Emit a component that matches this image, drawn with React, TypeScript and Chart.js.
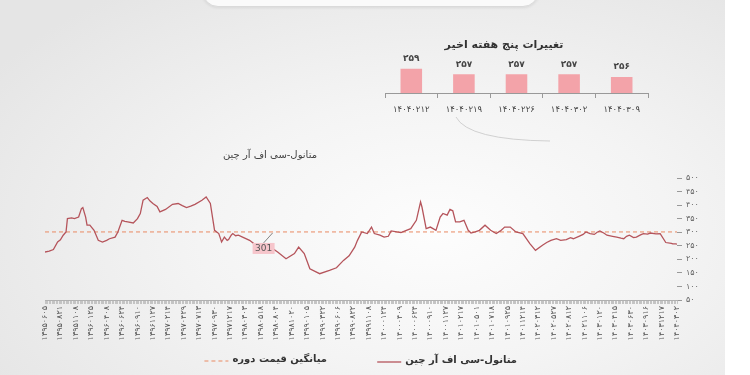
import React, { useEffect, useRef } from 'react';
import { Chart, registerables } from 'chart.js';

Chart.register(...registerables);

const FONT = '"DejaVu Sans", sans-serif';

// ---- main series (weekly index, price) ----
const dateLabels = [
  '۱۳۹۵۰۶۰۵', '۱۳۹۵۰۸۲۱', '۱۳۹۵۱۱۰۸', '۱۳۹۶۰۱۲۵', '۱۳۹۶۰۴۰۸', '۱۳۹۶۰۶۲۴', '۱۳۹۶۰۹۱۰',
  '۱۳۹۶۱۱۲۷', '۱۳۹۷۰۲۱۴', '۱۳۹۷۰۴۲۹', '۱۳۹۷۰۷۱۳', '۱۳۹۷۰۹۳۰', '۱۳۹۷۱۲۱۷', '۱۳۹۸۰۳۰۳',
  '۱۳۹۸۰۵۱۸', '۱۳۹۸۰۸۰۴', '۱۳۹۸۱۰۲۰', '۱۳۹۹۰۱۰۵', '۱۳۹۹۰۳۲۲', '۱۳۹۹۰۶۰۶', '۱۳۹۹۰۸۲۲',
  '۱۳۹۹۱۱۰۸', '۱۴۰۰۰۱۲۴', '۱۴۰۰۰۴۰۹', '۱۴۰۰۰۶۲۴', '۱۴۰۰۰۹۱۰', '۱۴۰۰۱۱۲۷', '۱۴۰۱۰۲۱۷',
  '۱۴۰۱۰۵۰۱', '۱۴۰۱۰۷۱۸', '۱۴۰۱۰۹۲۵', '۱۴۰۱۱۲۱۴', '۱۴۰۲۰۳۱۲', '۱۴۰۲۰۵۲۷', '۱۴۰۲۰۸۱۲',
  '۱۴۰۲۱۱۰۶', '۱۴۰۳۰۱۲۰', '۱۴۰۳۰۴۱۵', '۱۴۰۳۰۶۳۰', '۱۴۰۳۰۹۱۶', '۱۴۰۳۱۲۱۷', '۱۴۰۴۰۳۰۲',
];
const weeksPerLabel = 11;
const lastWeek = 451;

const priceWeeks = [
  0, 3, 6, 9, 11, 13, 15, 16, 19, 21, 24, 26, 27, 29, 30, 32, 35, 38, 41, 44, 46, 50, 52, 55, 57, 59,
  63, 66, 68, 70, 73, 75, 77, 80, 82, 86, 91, 95, 98, 101, 104, 107, 112, 115, 118, 121, 124, 125, 126,
  128, 130, 131, 133, 134, 136, 138, 141, 146, 149, 154, 161, 166, 172, 178, 181, 185, 189, 196, 203,
  208, 213, 217, 221, 223, 226, 230, 233, 235, 239, 242, 245, 247, 251, 254, 257, 261, 265, 268, 269,
  272, 275, 279, 282, 284, 287, 289, 291, 293, 296, 299, 302, 304, 307, 310, 314, 318, 322, 325, 328,
  332, 336, 341, 346, 350, 355, 358, 361, 365, 368, 372, 375, 377, 381, 384, 386, 389, 392, 394, 396,
  399, 401, 405, 408, 411, 413, 415, 417, 420, 422, 425, 427, 430, 432, 436, 439, 443, 447, 448, 449,
  450, 451,
];
const priceValues = [
  227, 230, 236, 264, 272, 289, 301, 350, 353, 350, 356, 387, 391, 356, 326, 326, 307, 270, 264, 270,
  276, 282, 301, 344, 340, 338, 334, 350, 369, 418, 428, 415, 406, 395, 375, 384, 403, 406, 398, 391,
  396, 403, 418, 430, 406, 307, 295, 280, 264, 282, 270, 273, 290, 295, 287, 289, 282, 270, 258, 252,
  245, 227, 202, 221, 245, 221, 165, 147, 159, 169, 196, 213, 245, 270, 301, 295, 319, 295, 289, 282,
  285, 305, 301, 299, 305, 313, 344, 412, 393, 313, 319, 307, 356, 369, 363, 384, 379, 338, 338, 344,
  307, 297, 301, 307, 326, 307, 295, 305, 319, 319, 301, 295, 258, 233, 252, 262, 270, 276, 270, 273,
  280, 276, 285, 292, 301, 295, 292, 300, 305, 296, 289, 285, 282, 278, 276, 285, 289, 280, 282, 290,
  295, 293, 297, 294, 295, 262, 259, 257, 257, 257, 256,
];
const averagePrice = 301;
const averageLabelWeek = 156;
const yMin = 50;
const yMax = 500;
const yStep = 50;

const seriesName = 'متانول-سی اف آر چین';
const averageName = 'میانگین قیمت دوره';
const chartTitle = 'متانول-سی اف آر چین';

// ---- inset: last five weeks ----
const recentTitle = 'تغییرات پنج هفته اخیر';
const recentLabels = ['۱۴۰۴۰۲۱۲', '۱۴۰۴۰۲۱۹', '۱۴۰۴۰۲۲۶', '۱۴۰۴۰۳۰۲', '۱۴۰۴۰۳۰۹'];
const recentValues = [259, 257, 257, 257, 256];
const recentMin = 250;
const recentMax = 266;

const toFa = (v: number | string) => String(v).replace(/\d/g, (d) => '۰۱۲۳۴۵۶۷۸۹'[+d]);

const mainOverlay = {
  id: 'mainOverlay',
  afterDraw(chart: any) {
    const { ctx, scales } = chart;
    const x = scales.x;
    const y = scales.y;
    ctx.save();
    // average value tag
    const px = x.getPixelForValue(averageLabelWeek);
    const py = y.getPixelForValue(averagePrice);
    ctx.strokeStyle = '#666';
    ctx.lineWidth = 0.8;
    ctx.beginPath();
    ctx.moveTo(px, py + 11);
    ctx.lineTo(px + 9, py + 1);
    ctx.stroke();
    ctx.fillStyle = '#f6c5cb';
    ctx.fillRect(px - 11, py + 11, 22, 11);
    ctx.fillStyle = '#555';
    ctx.font = `9px ${FONT}`;
    ctx.textAlign = 'center';
    ctx.textBaseline = 'middle';
    ctx.fillText(String(averagePrice), px, py + 16.8);

    // title
    ctx.fillStyle = '#444';
    ctx.font = `10px ${FONT}`;
    ctx.textAlign = 'right';
    ctx.fillText(chartTitle, 317, 155);

    // legend
    const items = [
      { ds: chart.data.datasets[0], right: 517, y: 360 },
      { ds: chart.data.datasets[1], right: 327, y: 359 },
    ];
    ctx.font = `bold 10px ${FONT}`;
    items.forEach((it) => {
      const w = ctx.measureText(it.ds.label).width;
      const left = it.right - w;
      ctx.fillStyle = '#333';
      ctx.textAlign = 'left';
      ctx.fillText(it.ds.label, left, it.y);
      ctx.strokeStyle = it.ds.borderColor;
      ctx.lineWidth = it.ds.borderWidth;
      ctx.setLineDash(it.ds.borderDash || []);
      ctx.beginPath();
      ctx.moveTo(left - 28, it.y + 2);
      ctx.lineTo(left - 4, it.y + 2);
      ctx.stroke();
      ctx.setLineDash([]);
    });
    ctx.restore();
  },
};

const insetOverlay = {
  id: 'insetOverlay',
  afterDraw(chart: any) {
    const { ctx } = chart;
    ctx.save();
    ctx.fillStyle = '#333';
    ctx.font = `bold 11px ${FONT}`;
    ctx.textAlign = 'center';
    ctx.textBaseline = 'middle';
    ctx.fillText(recentTitle, 134, 15);
    const meta = chart.getDatasetMeta(0);
    ctx.font = `bold 9px ${FONT}`;
    ctx.fillStyle = '#444';
    meta.data.forEach((bar: any, i: number) => {
      ctx.fillText(toFa(chart.data.datasets[0].data[i]), bar.x, bar.y - 10);
    });
    ctx.restore();
  },
};

export default function App() {
  const mainRef = useRef<HTMLCanvasElement>(null);
  const insetRef = useRef<HTMLCanvasElement>(null);

  useEffect(() => {
    const main = new Chart(mainRef.current as HTMLCanvasElement, {
      type: 'line',
      data: {
        datasets: [
          {
            label: seriesName,
            data: priceWeeks.map((w, i) => ({ x: w, y: priceValues[i] })),
            borderColor: '#b5545b',
            borderWidth: 1.3,
            pointRadius: 0,
            tension: 0,
          },
          {
            label: averageName,
            data: [
              { x: 0, y: averagePrice },
              { x: lastWeek, y: averagePrice },
            ],
            borderColor: '#e98a62',
            borderWidth: 1,
            borderDash: [4, 3],
            pointRadius: 0,
          },
        ],
      },
      options: {
        responsive: false,
        animation: false,
        layout: { padding: { left: 45, top: 178, right: 0, bottom: 0 } },
        plugins: { legend: { display: false }, tooltip: { enabled: false }, title: { display: false } },
        scales: {
          x: {
            type: 'linear',
            min: 0,
            max: lastWeek,
            afterBuildTicks: (s: any) => {
              s.ticks = Array.from({ length: lastWeek + 1 }, (_, i) => ({ value: i }));
            },
            afterFit: (s: any) => {
              s.height = 75;
            },
            ticks: {
              autoSkip: false,
              minRotation: 90,
              maxRotation: 90,
              padding: 2,
              font: { family: FONT, size: 8 },
              color: '#555',
              callback: (v: any) => (v % weeksPerLabel === 0 ? dateLabels[v / weeksPerLabel] ?? '' : ''),
            },
            grid: { drawOnChartArea: false, drawTicks: true, tickLength: 4, color: '#c4c4c4', lineWidth: 1 },
            border: { display: true, color: '#b0b0b0' },
          },
          y: {
            position: 'right',
            min: yMin,
            max: yMax,
            afterFit: (s: any) => {
              s.width = 73;
            },
            ticks: {
              stepSize: yStep,
              autoSkip: false,
              padding: 4,
              font: { family: FONT, size: 8 },
              color: '#666',
              callback: (v: any) => toFa(v),
            },
            grid: { drawOnChartArea: false, tickLength: 5, color: '#999' },
            border: { display: false },
          },
        },
      },
      plugins: [mainOverlay],
    } as any);

    const inset = new Chart(insetRef.current as HTMLCanvasElement, {
      type: 'bar',
      data: {
        labels: recentLabels,
        datasets: [
          {
            data: recentValues,
            backgroundColor: '#f3a3a9',
            barPercentage: 0.41,
            categoryPercentage: 1,
          },
        ],
      },
      options: {
        responsive: false,
        animation: false,
        layout: { padding: { left: 15, right: 12, top: 20, bottom: 0 } },
        plugins: { legend: { display: false }, tooltip: { enabled: false } },
        scales: {
          x: {
            afterFit: (s: any) => {
              s.height = 32;
            },
            grid: { drawOnChartArea: false, tickLength: 5, color: '#999', offset: true },
            border: { color: '#999' },
            ticks: { padding: 7, font: { family: FONT, size: 8.5 }, color: '#444' },
          },
          y: { display: false, min: recentMin, max: recentMax },
        },
      },
      plugins: [insetOverlay],
    } as any);

    return () => {
      main.destroy();
      inset.destroy();
    };
  }, []);

  return (
    <div
      style={{
        position: 'fixed',
        left: 0,
        top: 0,
        width: 750,
        height: 375,
        overflow: 'hidden',
        background: 'radial-gradient(ellipse 70% 80% at 58% 62%, #fdfdfd 0%, #f4f4f4 45%, #e5e5e5 100%)',
      }}
    >
      <div style={{ position: 'absolute', left: 725, top: 0, width: 25, height: 375, background: '#ffffff' }} />
      <div
        style={{
          position: 'absolute',
          left: 202,
          top: -30,
          width: 335,
          height: 35,
          borderRadius: 16,
          background: '#fafafa',
          border: '1px solid #dadada',
          boxShadow: '0 1px 3px rgba(0,0,0,0.08)',
        }}
      />
      <svg style={{ position: 'absolute', left: 0, top: 0 }} width={750} height={375}>
        <path d="M456 117 Q 468 140 550 141" stroke="#c6c6c6" strokeWidth={0.8} fill="none" />
      </svg>
      <canvas ref={mainRef} width={750} height={375} style={{ position: 'absolute', left: 0, top: 0 }} />
      <canvas ref={insetRef} width={290} height={95} style={{ position: 'absolute', left: 370, top: 30 }} />
    </div>
  );
}
